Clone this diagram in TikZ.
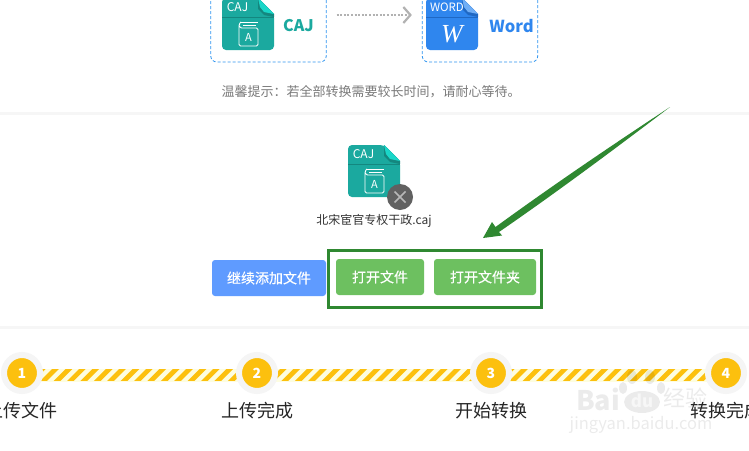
\documentclass[tikz,border=0pt]{standalone}
\usepackage{fontspec}
\setmainfont{Noto Sans CJK SC}
\newfontfamily\serifit{Liberation Serif}
\newfontfamily\btnfont[FakeBold=0.35]{Noto Sans CJK SC}
\usetikzlibrary{positioning}
\usetikzlibrary{arrows.meta}
\definecolor{cajteal}{HTML}{1BA99F}
\definecolor{cajfold}{HTML}{1AD6C8}
\definecolor{cajline}{HTML}{14877F}
\definecolor{wordblue}{HTML}{2F86EE}
\definecolor{wordfold}{HTML}{6FAEF6}
\definecolor{wordline}{HTML}{1F68C4}
\definecolor{dashblue}{HTML}{2F95F0}
\definecolor{btnblue}{HTML}{5F9BFF}
\definecolor{btngreen}{HTML}{6DC060}
\definecolor{markgreen}{HTML}{2F8831}
\definecolor{amber}{HTML}{FCC00E}
\definecolor{palestripe}{HTML}{FDFDE0}
\tikzset{
    dashbox/.style={draw=dashblue, line width=.8pt, dash pattern=on 3pt off 2pt, rounded corners=6pt, minimum width=115.5pt, minimum height=94pt, inner sep=0},
    btn/.style={text=white, rounded corners=3pt, inner sep=0, minimum height=36pt, font=\btnfont\fontsize{14}{16}\selectfont},
    stepdot/.style={circle, fill=amber, draw=black!4, line width=6pt, minimum size=36pt, inner sep=0, text=white, font=\bfseries\fontsize{14}{16}\selectfont},
    steplabel/.style={inner sep=0, text=black!85, font=\fontsize{18}{20}\selectfont},
    sepline/.style={draw=black!3.5, line width=3pt},
    icontext/.style={text=white, inner sep=0, font=\fontsize{#1}{14}\selectfont},
    bookline/.style={white, line width=.9pt},
    wmtext/.style={text=black, opacity=.08, inner sep=0},
}
\newcommand{\fileicon}[5]{%
    \begin{scope}[shift={(#1,#2)}]
        \fill[#3, rounded corners=4pt](0, 0)--(36, 0)--(52, 16)--(52, 52)--(0, 52)--cycle;
        \fill[#5](36, 0)--(52, 16)--(52, 19)--(42, 17)--(36, 11)--cycle;
        \fill[#4](36, 0)--(52, 16)--(42, 14)--(38, 9)--cycle;
        \draw[#5, line width=.8pt](0, 19)--(52, 19);
    \end{scope}}
\newcommand{\bookicon}[2]{%
    \begin{scope}[shift={(#1,#2)}]
        \draw[bookline, rounded corners=1.5pt](19, 24)--(17, 26)--(17, 48)--(36, 48)--(36, 30)--(18, 30)--(17, 27);
        \draw[bookline](19, 24)--(36, 24);
        \draw[bookline](21, 27)--(34, 27);
    \end{scope}}
\begin{document}
\begin{tikzpicture}[x=1pt, y=-1pt]
    \clip(0, 0) rectangle (749, 450);
    \fill[white](0, 0) rectangle (749, 450);
    \draw[sepline](0, 113)--(749, 113);
    \draw[sepline](0, 327)--(749, 327);
    % top row
    \node[dashbox] (cajbox) at (268.5, 15) {};
    \node[dashbox] (wordbox) at (480, 15) {};
    \fileicon{222}{-2}{cajteal}{cajfold}{cajline}
    \fileicon{426}{-2}{wordblue}{wordfold}{wordline}
    \node[icontext=12] (cajtag) at (237.5, 7) {CAJ};
    \bookicon{222}{-2}
    \node[icontext=11] (cajbook) at (248.5, 37) {A};
    \node[icontext=11.5] (wordtag) at (447, 7) {WORD};
    \node[text=white, inner sep=0, font=\serifit\itshape\fontsize{26}{28}\selectfont] (wordw) at (452, 34) {W};
    \node[text=cajteal, inner sep=0, font=\bfseries\fontsize{16}{18}\selectfont] (cajname) at (298.5, 26) {CAJ};
    \node[text=wordblue, inner sep=0, font=\bfseries\fontsize{16.5}{18}\selectfont] (wordname) at (511.5, 26) {Word};
    \draw[-{Straight Barb[length=7pt, width=16pt, line width=2.2pt]}, black!30, line width=2pt, dash pattern=on 2pt off 1.6pt, shorten <=10pt, shorten >=10pt](cajbox)--(wordbox);
    \node[text=black!52, inner sep=0, font=\fontsize{13}{15}\selectfont] (tip) at (371, 92) {温馨提示^^^^ff1a若全部转换需要较长时间^^^^ff0c请耐心等待。};
    % uploaded file
    \fileicon{348}{145}{cajteal}{cajfold}{cajline}
    \node[icontext=12] (filetag) at (363.5, 154) {CAJ};
    \bookicon{348}{145}
    \node[icontext=11] (filebook) at (374.5, 184) {A};
    \node[circle, fill=black!62, minimum size=26pt, inner sep=0] (closedot) at (400, 197) {};
    \draw[black!28, line width=1.6pt](394.5, 191.5)--(405.5, 202.5);
    \draw[black!28, line width=1.6pt](405.5, 191.5)--(394.5, 202.5);
    \node[text=black!80, inner sep=0, font=\fontsize{12}{14}\selectfont] (filename) at (374, 221) {北宋宦官专权干政.caj};
    % buttons
    \node[btn, fill=btnblue, minimum width=114pt] (addbtn) at (269, 278) {继续添加文件};
    \node[btn, fill=btngreen, minimum width=88pt] (openfile) at (380, 277) {打开文件};
    \node[btn, fill=btngreen, minimum width=102pt] (openfolder) at (485, 277) {打开文件夹};
    \draw[markgreen, line width=3pt](328.5, 250.5) rectangle (541.5, 307.5);
    \fill[markgreen](670, 107)..controls (620, 145) and (560, 190) .. (499, 232)--(502, 235.5)--(483, 238)--(492, 222)--(495.5, 227)..controls (560, 180) and (620, 140) .. (670, 107)--cycle;
    % steps
    \coordinate (barstart) at (22, 375);
    \coordinate (barend) at (726, 375);
    \fill[palestripe]([yshift=6.5pt]barstart) rectangle ([yshift=-6.5pt]barend);
    \begin{scope}
        \clip([yshift=5.5pt]barstart) rectangle ([yshift=-5.5pt]barend);
        \foreach \stripe in {0,13.4,...,750}
            \fill[amber](\stripe, 381)--(\stripe+6.7, 381)--(\stripe+18.7, 369)--(\stripe+12, 369)--cycle;
    \end{scope}
    \node[stepdot] (stepone) at (22, 373) {1};
    \node[stepdot] (steptwo) at (257, 373) {2};
    \node[stepdot] (stepthree) at (491, 373) {3};
    \node[stepdot] (stepfour) at (726, 373) {4};
    \node[steplabel, below=8pt of stepone] (labelone) {上传文件};
    \node[steplabel, below=8pt of steptwo] (labeltwo) {上传完成};
    \node[steplabel, below=8pt of stepthree] (labelthree) {开始转换};
    \node[steplabel, below=8pt of stepfour] (labelfour) {转换完成};
    % watermark
    \begin{scope}[opacity=.08]
        \fill[black](642, 402) ellipse (18 and 11);
        \fill[black](632, 377) ellipse (5 and 7);
        \fill[black](650, 377) ellipse (5 and 7);
        \fill[black](623, 388) ellipse (4 and 6);
        \fill[black](661, 388) ellipse (4 and 6);
    \end{scope}
    \node[wmtext, font=\bfseries\fontsize{27}{29}\selectfont] (wmbai) at (598, 399) {Bai};
    \node[text=white, opacity=.6, inner sep=0, font=\bfseries\fontsize{17}{19}\selectfont] (wmdu) at (642, 401) {du};
    \node[wmtext, font=\fontsize{22}{24}\selectfont] (wmjy) at (685, 398) {经验};
    \node[wmtext, font=\fontsize{16.5}{18}\selectfont] (wmurl) at (641, 425) {jingyan.baidu.com};
\end{tikzpicture}
\end{document}
